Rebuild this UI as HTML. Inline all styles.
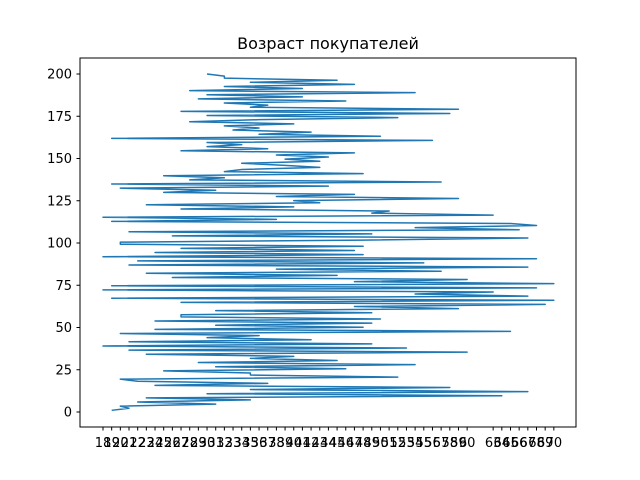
<!DOCTYPE html>
<html><head><meta charset="utf-8"><style>
body{margin:0;background:#fff;}
svg{display:block;font-family:"DejaVu Sans","Liberation Sans",sans-serif;}
</style></head><body>
<svg id="chart" width="640" height="480" viewBox="0 0 640 480">
<rect width="640" height="480" fill="#fff"/>
<text x="328" y="49" text-anchor="middle" font-size="16" fill="#000">Возраст покупателей</text>
<g id="plot"></g>
<rect x="80" y="58" width="496" height="369" fill="none" stroke="#000" stroke-width="1"/>
<g id="xaxis"></g>
<g id="yaxis"></g>
</svg>
<script>
const ageIdx = [1,3,2,13,4,17,5,46,12,49,17,40,6,19,4,2,34,17,17,7,28,13,36,11,27,17,22,5,42,3,35,0,31,3,24,12,18,2,47,6,30,13,31,6,32,9,
9,31,13,41,29,51,9,52,1,49,36,45,0,50,1,52,29,42,8,27,5,39,20,49,3,37,4,50,0,30,6,29,9,30,2,
2,30,49,8,31,3,48,36,50,47,1,20,0,45,31,33,9,22,5,25,22,41,20,29,7,13,2,26,1,39,10,14,7,30,14,16,25,21,
16,25,21,26,20,29,9,19,12,16,12,38,1,32,18,24,15,18,14,22,10,18,34,12,40,9,41,17,19,14,28,11,23,12,36,10,23,14,29,17,27,14,14,12];
const tickIdx = [0,1,2,3,4,5,6,7,8,9,10,11,12,13,14,15,16,17,18,19,20,21,22,23,24,25,26,27,28,29,30,31,32,33,34,35,36,37,38,39,40,41,42,45,46,47,48,49,50,51,52];
const tickLabels = ["18","19","20","21","22","23","24","25","26","27","28","29","30","31","32","33","34","35","36","37","38","39","40","41","42","43","44","45","46","47","48","49","50","51","52","53","54","55","56","57","58","59","60","63","64","65","66","67","68","69","70"];
const yTicks = [0,25,50,75,100,125,150,175,200];

const NS="http://www.w3.org/2000/svg";
const xs = i => 103 + i*8.67;
const ys = v => 412 - v*1.69;
const n = ageIdx.length;
const rowNum = i => 1 + i*199/(n-1);

const plot=document.getElementById('plot');
let d='';
ageIdx.forEach((a,i)=>{d+=(i?'L':'M')+xs(a).toFixed(2)+','+ys(rowNum(i)).toFixed(2);});
const line=document.createElementNS(NS,'path');
line.setAttribute('d',d);
line.setAttribute('fill','none');
line.setAttribute('stroke','#1f77b4');
line.setAttribute('stroke-width','1.5');
line.setAttribute('stroke-linejoin','round');


plot.appendChild(line);

const xg=document.getElementById('xaxis');
tickIdx.forEach((t,k)=>{
  const x=xs(t);
  const tk=document.createElementNS(NS,'line');
  tk.setAttribute('x1',x);tk.setAttribute('x2',x);tk.setAttribute('y1',427);tk.setAttribute('y2',430.5);
  tk.setAttribute('stroke','#000');
  
  
  xg.appendChild(tk);
  const tx=document.createElementNS(NS,'text');
  tx.setAttribute('x',x);tx.setAttribute('y',447);tx.setAttribute('text-anchor','middle');tx.setAttribute('font-size','13');
  tx.textContent=tickLabels[k];
  
  
  xg.appendChild(tx);
});
const yg=document.getElementById('yaxis');
yTicks.forEach(v=>{
  const y=ys(v);
  const tk=document.createElementNS(NS,'line');
  tk.setAttribute('x1',76.5);tk.setAttribute('x2',80);tk.setAttribute('y1',y);tk.setAttribute('y2',y);
  tk.setAttribute('stroke','#000');
  
  
  yg.appendChild(tk);
  const tx=document.createElementNS(NS,'text');
  tx.setAttribute('x',72);tx.setAttribute('y',y+4.5);tx.setAttribute('text-anchor','end');tx.setAttribute('font-size','13');
  tx.textContent=v;
  
  
  yg.appendChild(tx);
});
</script>
</body></html>
